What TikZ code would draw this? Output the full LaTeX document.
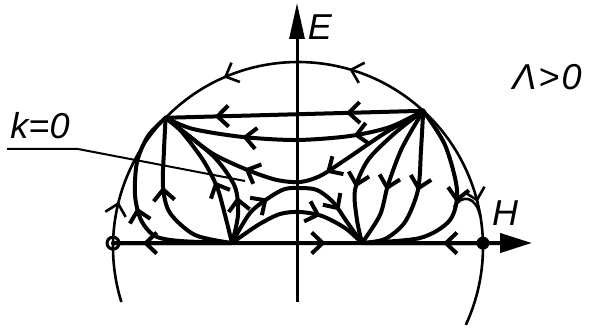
\documentclass[tikz,border=0pt]{standalone}
\usepackage{fontspec}
\newfontfamily\labfont{Liberation Sans}
\usetikzlibrary{arrows.meta,decorations.markings,calc}
\tikzset{
  crv/.style={line width=4pt, line cap=round, line join=round},
  circ/.style={line width=2.6pt},
  thinl/.style={line width=2pt},
  axisl/.style={line width=3pt},
  lab/.style={font=\labfont\itshape\fontsize{36}{40}\selectfont, inner sep=0pt},
  marr/.style={postaction={decorate, decoration={markings,
      mark=at position #1 with {\arrow{Straight Barb[length=11pt,width=21pt]}}}}},
  marrtwo/.style 2 args={postaction={decorate, decoration={markings,
      mark=at position #1 with {\arrow{Straight Barb[length=11pt,width=21pt]}},
      mark=at position #2 with {\arrow{Straight Barb[length=11pt,width=21pt]}}}}},
  ldot/.style={circle, draw, line width=3pt, minimum size=12pt, inner sep=0pt},
  rdot/.style={circle, fill, minimum size=13pt, inner sep=0pt},
}
\begin{document}
\begin{tikzpicture}[x=1pt,y=-1pt]
\useasboundingbox (0,0) rectangle (589,331);
% key points
\coordinate (O) at (298,247);
\coordinate (Llow) at ($(O)+(162.7:185)$);
\coordinate (L) at ($(O)+(181.2:185)$);
\coordinate (PL) at ($(O)+(224.3:185)$);
\coordinate (PR) at ($(O)+(312.6:185)$);
\coordinate (R) at ($(O)+(358.8:185)$);
\coordinate (NL) at (232,243);
\coordinate (NR) at (362,243);
\coordinate (Ebot) at (297,302);
\coordinate (Etop) at (297,3);
\coordinate (Htip) at (532,243);
\coordinate (hA) at ($(O)+(350.5:185)$);
\coordinate (hB) at (454,207);
\coordinate (kA) at (7,149);
\coordinate (kB) at (78,149);
\coordinate (kC) at (245,181);
% circle
\draw[circ] (Llow) arc[start angle=162.7,end angle=181.2,radius=185];
\draw[circ, marr=0.3] (L) arc[start angle=181.2,end angle=224.3,radius=185];
\draw[circ, marrtwo={0.3}{0.75}] (PR) arc[start angle=312.6,end angle=224.3,radius=185];
\draw[circ, marr=0.72] (PR) arc[start angle=312.6,end angle=358.8,radius=185];
\draw[circ] (R) arc[start angle=358.8,end angle=384.9,radius=185];
% axes
\draw[axisl, -{Triangle[length=36pt,width=15pt]}] (Ebot) -- (Etop);
\draw[crv, -{Triangle[length=32pt,width=19pt]}] (L) -- (Htip);
\draw[crv, marr=0.75] (NL) -- (L);
\draw[crv, marr=0.72] (NL) -- (NR);
\draw[crv, marr=0.33] (R) -- (NR);
% upper curves from PR to PL
\draw[crv, marrtwo={0.3}{0.81}] (PR) -- (PL);
\draw[crv, marrtwo={0.28}{0.70}] plot[smooth] coordinates {(PR) (390,127) (350,136) (297,140) (243,137) (193,129) (PL)};
\draw[crv, marrtwo={0.39}{0.68}] plot[smooth] coordinates {(PR) (385,133) (345,160) (320,176) (300,182) (277,180) (250,171) (215,155) (190,137) (PL)};
% left fan NL -> PL
\draw[crv, marr=0.59] plot[smooth] coordinates {(NL) (195,235) (170,213) (163,187) (164,150) (PL)};
\draw[crv, marr=0.53] plot[smooth] coordinates {(NL) (180,241) (155,236) (141,220) (135,195) (137,162) (148,136) (PL)};
\draw[crv, marr=0.44] plot[smooth] coordinates {(NL) (225,215) (217,187) (203,160) (181,131) (PL)};
\draw[crv, marr=0.3] plot[smooth] coordinates {(NL) (238,215) (235,187) (217,160) (193,139) (PL)};
% humps NL -> NR
\draw[crv, marrtwo={0.32}{0.78}] plot[smooth] coordinates {(NL) (250,213) (270,197) (285,189) (300,188) (317,190) (333,202) (347,222) (NR)};
\draw[crv, marr=0.66] plot[smooth] coordinates {(NL) (258,225) (280,214) (300,212) (322,216) (345,228) (NR)};
% right fan PR -> NR
\draw[crv, marr=0.65] plot[smooth] coordinates {(PR) (395,133) (368,160) (355,190) (357,220) (NR)};
\draw[crv, marr=0.6] plot[smooth] coordinates {(PR) (402,148) (388,185) (380,215) (NR)};
\draw[crv, marr=0.49] plot[smooth] coordinates {(PR) (421,150) (418,190) (405,222) (385,239) (NR)};
\draw[crv, marr=0.47] plot[smooth] coordinates {(PR) (445,145) (457,190) (450,220) (420,238) (NR)};
\draw[circ] (hA) .. controls (476,196) and (462,194) .. (hB);
% k=0 leader
\draw[thinl] (kA) -- (kB) -- (kC);
% dots
\node[ldot] (Ld) at (L) {};
\node[rdot] (Rd) at (R) {};
% labels
\node[lab] (Elab) at (320,27) {E};
\node[lab] (Hlab) at (505,213) {H};
\node[lab] (Lam) at (547,77) {Λ\kern2pt>\kern2pt0};
\node[lab] (klab) at (40,126) {k=0};
\end{tikzpicture}
\end{document}
